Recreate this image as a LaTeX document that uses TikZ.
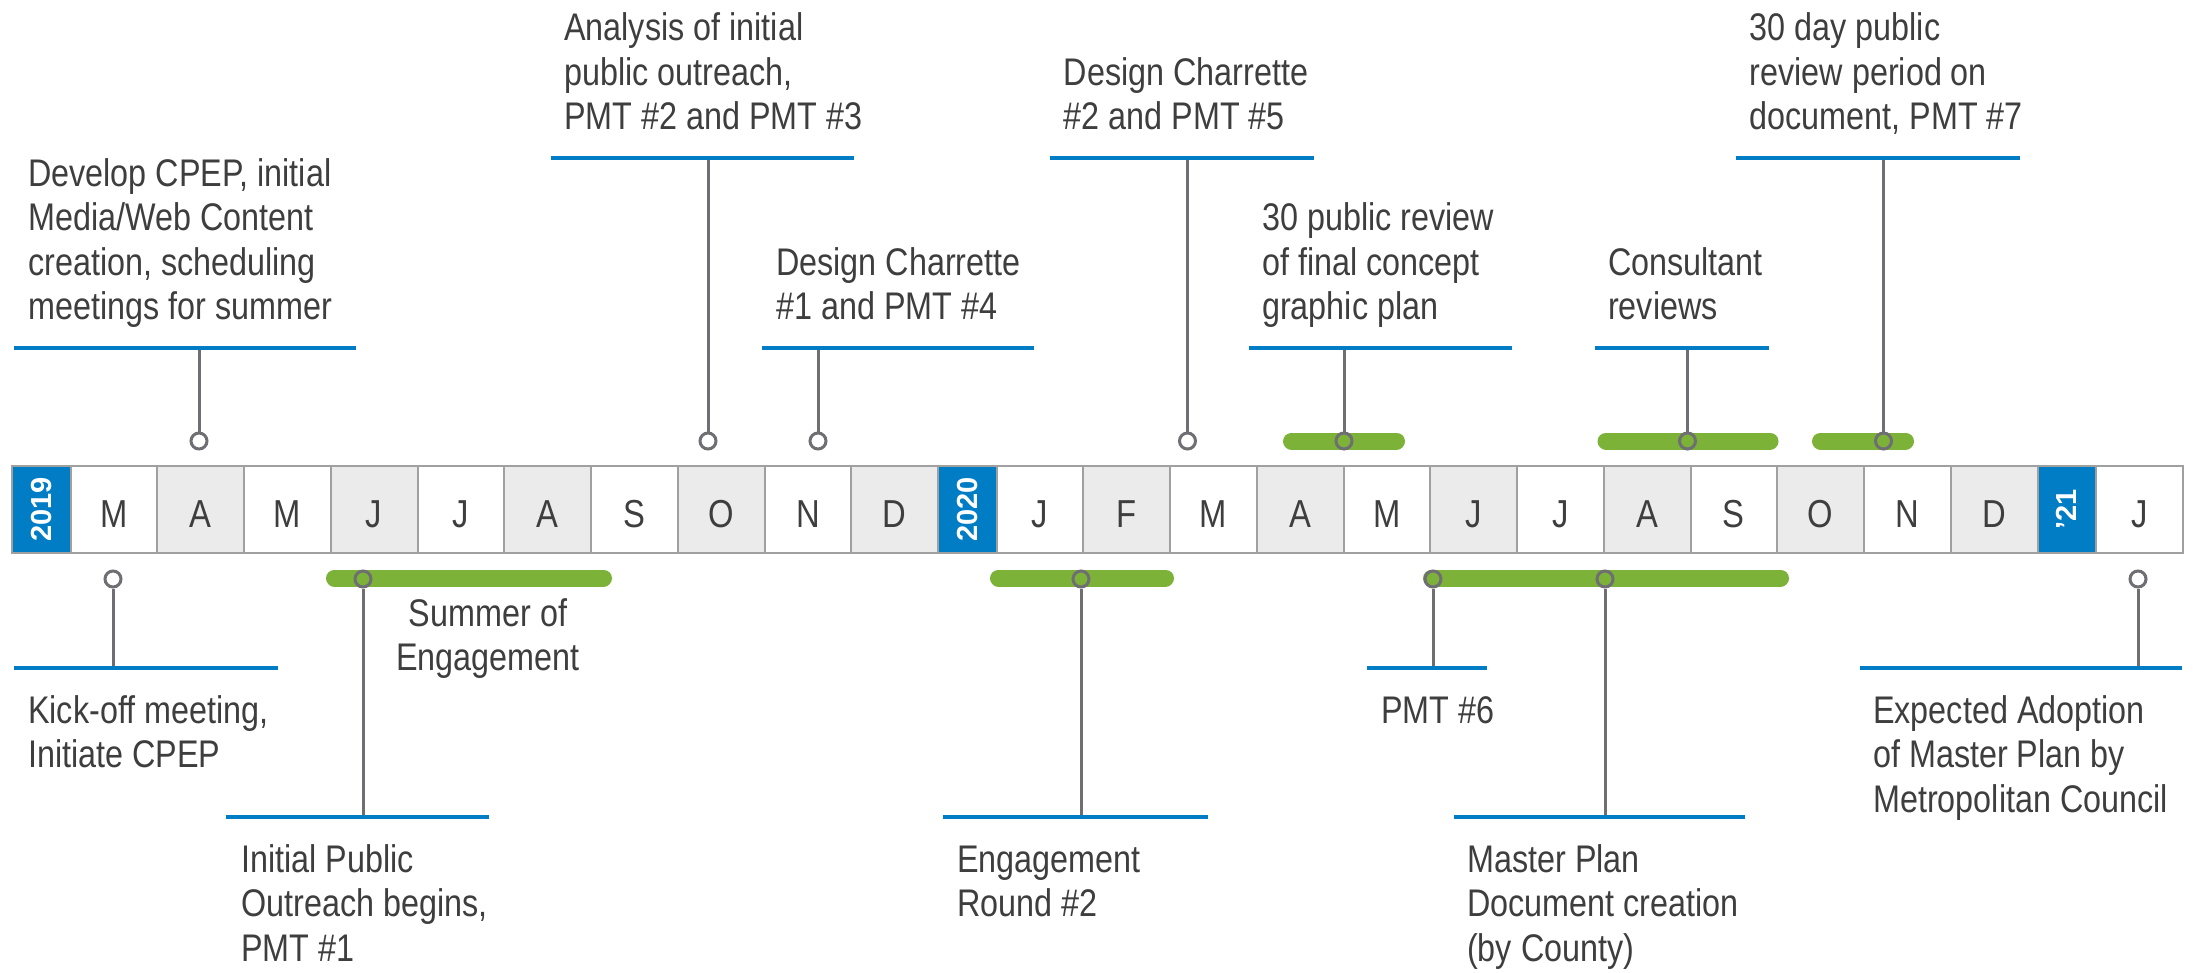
\documentclass[tikz,border=0pt]{standalone}
\usepackage{fontspec}
\setmainfont[FakeStretch=0.84]{Liberation Sans}
\newfontfamily\yearfont{Liberation Sans}
\definecolor{tlblue}{RGB}{0,125,197}
\definecolor{tlgreen}{RGB}{125,178,56}
\definecolor{stemgray}{RGB}{110,110,115}
\definecolor{bordergray}{RGB}{160,160,160}
\definecolor{bandgray}{RGB}{235,235,235}
\definecolor{txtgray}{RGB}{62,62,62}
\begin{document}
\begin{tikzpicture}[x=1pt,y=-1pt,
  cell/.style={rectangle, draw=bordergray, line width=2pt, minimum width=86.75pt, minimum height=87pt, inner sep=0pt},
  yearbox/.style={cell, fill=tlblue, minimum width=58.5pt},
  month/.style={font=\fontsize{39}{39}\selectfont, text=txtgray, inner sep=0pt},
  yeartxt/.style={font=\yearfont\bfseries\fontsize{29}{29}\selectfont, text=white, inner sep=0pt, rotate=90},
  bline/.style={draw=tlblue, line width=4.5pt},
  stem/.style={draw=stemgray, line width=3pt},
  pin/.style={circle, draw=stemgray, line width=3pt, fill=white, minimum size=16pt, inner sep=0pt},
  pinbar/.style={pin, fill=none},
  gbar/.style={draw=tlgreen, line width=17pt, line cap=round},
  lbl/.style={font=\fontsize{38.5}{44.5}\selectfont, text=txtgray, align=left, inner sep=0pt},
  lblc/.style={lbl, align=center}
]
\useasboundingbox (0,0) rectangle (2203,972);
\fill[white] (0,0) rectangle (2203,972);

% ---------- month band ----------
\node[yearbox] (y19) at (41.25,509.5) {};
\node[yeartxt] (y19t) at (y19.center) {2019};
\foreach \i/\m in {0/M,1/A,2/M,3/J,4/J,5/A,6/S,7/O,8/N,9/D} {
  \ifodd\i \def\cf{bandgray}\else\def\cf{white}\fi
  \node[cell, fill=\cf] (a\i) at ({113.875+86.75*\i}, 509.5) {};
  \node[month] (am\i) at ([yshift=-5pt]a\i.center) {\m};
}
\node[yearbox] (y20) at (967.25,509.5) {};
\node[yeartxt] (y20t) at (y20.center) {2020};
\foreach \i/\m in {0/J,1/F,2/M,3/A,4/M,5/J,6/J,7/A,8/S,9/O,10/N,11/D} {
  \ifodd\i \def\cf{bandgray}\else\def\cf{white}\fi
  \node[cell, fill=\cf] (b\i) at ({1039.875+86.75*\i}, 509.5) {};
  \node[month] (bm\i) at ([yshift=-5pt]b\i.center) {\m};
}
\node[yearbox] (y21) at (2066.75,509.5) {};
\node[yeartxt] (y21t) at (y21.center) {’21};
\node[cell, fill=white] (c0) at (2139.375,509.5) {};
\node[month] (cm0) at ([yshift=-5pt]c0.center) {J};
\draw[bordergray, line width=2.5pt] (12,466) rectangle (2182.75,553);

% ---------- green bars ----------
\draw[gbar] (1291.5,441) -- (1396.5,441);
\draw[gbar] (1606,441) -- (1770,441);
\draw[gbar] (1820.5,441) -- (1905.5,441);
\draw[gbar] (334.5,578) -- (603.5,578);
\draw[gbar] (998.5,578) -- (1165.5,578);
\draw[gbar] (1431.5,578) -- (1780.5,578);

% ---------- top callouts ----------
% T1
\coordinate (t1a) at (14,348); \coordinate (t1b) at (356,348); \coordinate (t1s) at (199,348);
\node[pin] (p1) at (199,441) {};
\draw[stem] (p1) -- (t1s);
\draw[bline] (t1a) -- (t1b);
\node[lbl, anchor=south west] (l1) at (28,333.35) {\strut Develop CPEP, initial\\\strut Media/Web Content\\\strut creation, scheduling\\\strut meetings for summer};
% T2
\coordinate (t2a) at (551,158); \coordinate (t2b) at (853.5,158); \coordinate (t2s) at (708,158);
\node[pin] (p2) at (708,441) {};
\draw[stem] (p2) -- (t2s);
\draw[bline] (t2a) -- (t2b);
\node[lbl, anchor=south west] (l2) at (564,143.35) {\strut Analysis of initial\\\strut public outreach,\\\strut PMT \#2 and PMT \#3};
% T3
\coordinate (t3a) at (761.5,348); \coordinate (t3b) at (1034,348); \coordinate (t3s) at (818,348);
\node[pin] (p3) at (818,441) {};
\draw[stem] (p3) -- (t3s);
\draw[bline] (t3a) -- (t3b);
\node[lbl, anchor=south west] (l3) at (776,333.35) {\strut Design Charrette\\\strut \#1 and PMT \#4};
% T4
\coordinate (t4a) at (1049.5,158); \coordinate (t4b) at (1313.5,158); \coordinate (t4s) at (1187.5,158);
\node[pin] (p4) at (1187.5,441) {};
\draw[stem] (p4) -- (t4s);
\draw[bline] (t4a) -- (t4b);
\node[lbl, anchor=south west] (l4) at (1063.5,143.35) {\strut Design Charrette\\\strut \#2 and PMT \#5};
% T5
\coordinate (t5a) at (1248.5,348); \coordinate (t5b) at (1511.5,348); \coordinate (t5s) at (1344,348);
\node[pinbar] (p5) at (1344,441) {};
\draw[stem] (p5) -- (t5s);
\draw[bline] (t5a) -- (t5b);
\node[lbl, anchor=south west] (l5) at (1262,333.35) {\strut 30 public review\\\strut of final concept\\\strut graphic plan};
% T6
\coordinate (t6a) at (1595,348); \coordinate (t6b) at (1768.5,348); \coordinate (t6s) at (1687.5,348);
\node[pinbar] (p6) at (1687.5,441) {};
\draw[stem] (p6) -- (t6s);
\draw[bline] (t6a) -- (t6b);
\node[lbl, anchor=south west] (l6) at (1608,333.35) {\strut Consultant\\\strut reviews};
% T7
\coordinate (t7a) at (1736,158); \coordinate (t7b) at (2020,158); \coordinate (t7s) at (1883.5,158);
\node[pinbar] (p7) at (1883.5,441) {};
\draw[stem] (p7) -- (t7s);
\draw[bline] (t7a) -- (t7b);
\node[lbl, anchor=south west] (l7) at (1749.5,143.35) {\strut 30 day public\\\strut review period on\\\strut document, PMT \#7};

% ---------- bottom callouts ----------
% B1
\coordinate (b1a) at (14,668); \coordinate (b1b) at (278,668); \coordinate (b1s) at (113,668);
\node[pin] (q1) at (113,579) {};
\draw[stem] (q1) -- (b1s);
\draw[bline] (b1a) -- (b1b);
\node[lbl, anchor=north west] (m1) at (28,691.85) {\strut Kick-off meeting,\\\strut Initiate CPEP};
% B2
\coordinate (b2a) at (225.5,817); \coordinate (b2b) at (489,817); \coordinate (b2s) at (363,817);
\node[pinbar] (q2) at (363,579) {};
\draw[stem] (q2) -- (b2s);
\draw[bline] (b2a) -- (b2b);
\node[lbl, anchor=north west] (m2) at (241,840.85) {\strut Initial Public\\\strut Outreach begins,\\\strut PMT \#1};
\node[lblc, anchor=north] (sum) at (488,594.85) {\strut Summer of\\\strut Engagement};
% B3
\coordinate (b3a) at (943,817); \coordinate (b3b) at (1207.5,817); \coordinate (b3s) at (1081,817);
\node[pinbar] (q3) at (1081,579) {};
\draw[stem] (q3) -- (b3s);
\draw[bline] (b3a) -- (b3b);
\node[lbl, anchor=north west] (m3) at (957,840.85) {\strut Engagement\\\strut Round \#2};
% B4
\coordinate (b4a) at (1366.5,668); \coordinate (b4b) at (1487,668); \coordinate (b4s) at (1433,668);
\node[pinbar] (q4) at (1433,579) {};
\draw[stem] (q4) -- (b4s);
\draw[bline] (b4a) -- (b4b);
\node[lbl, anchor=north west] (m4) at (1381,691.85) {\strut PMT \#6};
% B5
\coordinate (b5a) at (1453.5,817); \coordinate (b5b) at (1745,817); \coordinate (b5s) at (1605,817);
\node[pinbar] (q5) at (1605,579) {};
\draw[stem] (q5) -- (b5s);
\draw[bline] (b5a) -- (b5b);
\node[lbl, anchor=north west] (m5) at (1467,840.85) {\strut Master Plan\\\strut Document creation\\\strut (by County)};
% B6
\coordinate (b6a) at (1859.5,668); \coordinate (b6b) at (2182,668); \coordinate (b6s) at (2138,668);
\node[pin] (q6) at (2138,579) {};
\draw[stem] (q6) -- (b6s);
\draw[bline] (b6a) -- (b6b);
\node[lbl, anchor=north west] (m6) at (1873,691.85) {\strut Expected Adoption\\\strut of Master Plan by\\\strut Metropolitan Council};
\end{tikzpicture}
\end{document}
